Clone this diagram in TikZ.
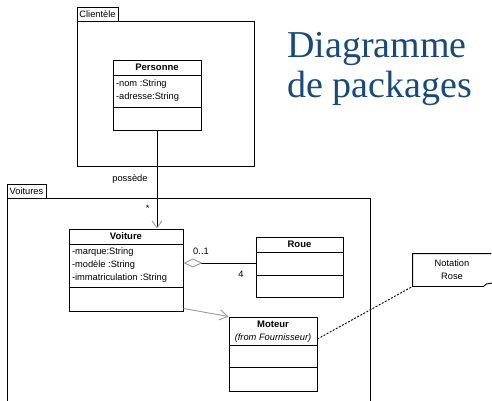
\documentclass[tikz,border=0pt]{standalone}
\usepackage{fontspec}
\setmainfont{Liberation Sans}
\newfontfamily\titlefont{Liberation Serif}
\usetikzlibrary{arrows.meta, positioning, calc}
\definecolor{titleblue}{HTML}{17497F}
\definecolor{linegray}{HTML}{9A9A9A}

\begin{document}
\begin{tikzpicture}[x=1pt, y=-1pt, line width=0.9pt,
    every node/.style={font=\fontsize{9.3}{13}\selectfont, inner sep=1pt},
    pkgbox/.style={draw, inner sep=0pt},
    classbox/.style={draw, inner sep=0pt},
    classname/.style={font=\fontsize{9.5}{12}\selectfont\bfseries},
    attrs/.style={anchor=west, align=left, inner sep=0pt},
    titletext/.style={font=\titlefont\fontsize{38}{40}\selectfont, text=titleblue, anchor=base west, inner sep=0pt}]
  \useasboundingbox (0,0) rectangle (492,400);
  \clip (0,0) rectangle (492,400);

  % packages
  \node[pkgbox, minimum width=41pt, minimum height=14pt] (clienteleTab) at (97.5,14) {Clientèle};
  \node[pkgbox, minimum width=177pt, minimum height=145pt] (clientele) at (165.5,93.5) {};
  \node[pkgbox, minimum width=39pt, minimum height=14pt] (voituresTab) at (26.5,191) {Voitures};
  \node[pkgbox, minimum width=363pt, minimum height=212pt] (voitures) at (188.5,304) {};

  % classes
  \node[classbox, minimum width=88pt, minimum height=70pt] (personne) at (157,95) {};
  \draw ([yshift=-16pt]personne.north west) -- ([yshift=-16pt]personne.north east);
  \draw ([yshift=-48pt]personne.north west) -- ([yshift=-48pt]personne.north east);
  \node[classname] (personneName) at ([yshift=-8pt]personne.north) {Personne};
  \node[attrs] (personneAttrs) at ([shift={(3pt,-31.5pt)}]personne.north west) {-nom :String\\-adresse:String};

  \node[classbox, minimum width=114pt, minimum height=82pt] (voiture) at (126,270) {};
  \draw ([yshift=-16pt]voiture.north west) -- ([yshift=-16pt]voiture.north east);
  \draw ([yshift=-59pt]voiture.north west) -- ([yshift=-59pt]voiture.north east);
  \node[classname] (voitureName) at ([yshift=-8pt]voiture.north) {Voiture};
  \node[attrs] (voitureAttrs) at ([shift={(3pt,-37pt)}]voiture.north west) {-marque:String\\-modèle :String\\-immatriculation :String};

  \node[classbox, minimum width=87pt, minimum height=60pt] (roue) at (299.5,267) {};
  \draw ([yshift=-16pt]roue.north west) -- ([yshift=-16pt]roue.north east);
  \draw ([yshift=-39pt]roue.north west) -- ([yshift=-39pt]roue.north east);
  \node[classname] (roueName) at ([yshift=-8pt]roue.north) {Roue};

  \node[classbox, minimum width=88pt, minimum height=74pt] (moteur) at (273,354) {};
  \draw ([yshift=-29pt]moteur.north west) -- ([yshift=-29pt]moteur.north east);
  \draw ([yshift=-51pt]moteur.north west) -- ([yshift=-51pt]moteur.north east);
  \node[classname] (moteurName) at ([yshift=-8pt]moteur.north) {Moteur};
  \node (moteurFrom) at ([yshift=-22pt]moteur.north) {\itshape (from Fournisseur)};

  % note
  \node[minimum width=78pt, minimum height=32pt, align=center] (note) at (452,270) {Notation\\Rose};
  \draw (note.north east) -- (note.north west) -- (note.south west) -- ([xshift=-8pt]note.south east)
    -- ([shift={(-5pt,2.5pt)}]note.south east) -- ([shift={(1pt,3.5pt)}]note.south east);

  % associations
  \draw[-{Straight Barb[length=7pt, width=10pt, color=linegray]}] (personne.south)
    -- node[midway, left=8pt] (possede) {possède}
       node[pos=0.79, left=6pt] (multVoiture) {*}
    (personne.south |- voiture.north);
  \coordinate (aggStart) at ([yshift=7pt]voiture.east);
  \draw[{Diamond[open, length=19pt, width=9pt, color=linegray, fill=white]}-] (aggStart) -- (aggStart -| roue.west);
  \node (multMin) at (201,251) {0..1};
  \node (multRoue) at (241,274) {4};
  \draw[linegray, -{Straight Barb[length=8pt, width=10pt]}] ([yshift=3pt]voiture.south east) -- (moteur.north west);
  \draw[dash pattern=on 2pt off 1.5pt] ([yshift=15pt]moteur.east) -- (note.south west);

  % title
  \node[titletext] (titleTop) at (287,57) {Diagramme};
  \node[titletext] (titleBottom) at (287,97) {de packages};
\end{tikzpicture}
\end{document}
